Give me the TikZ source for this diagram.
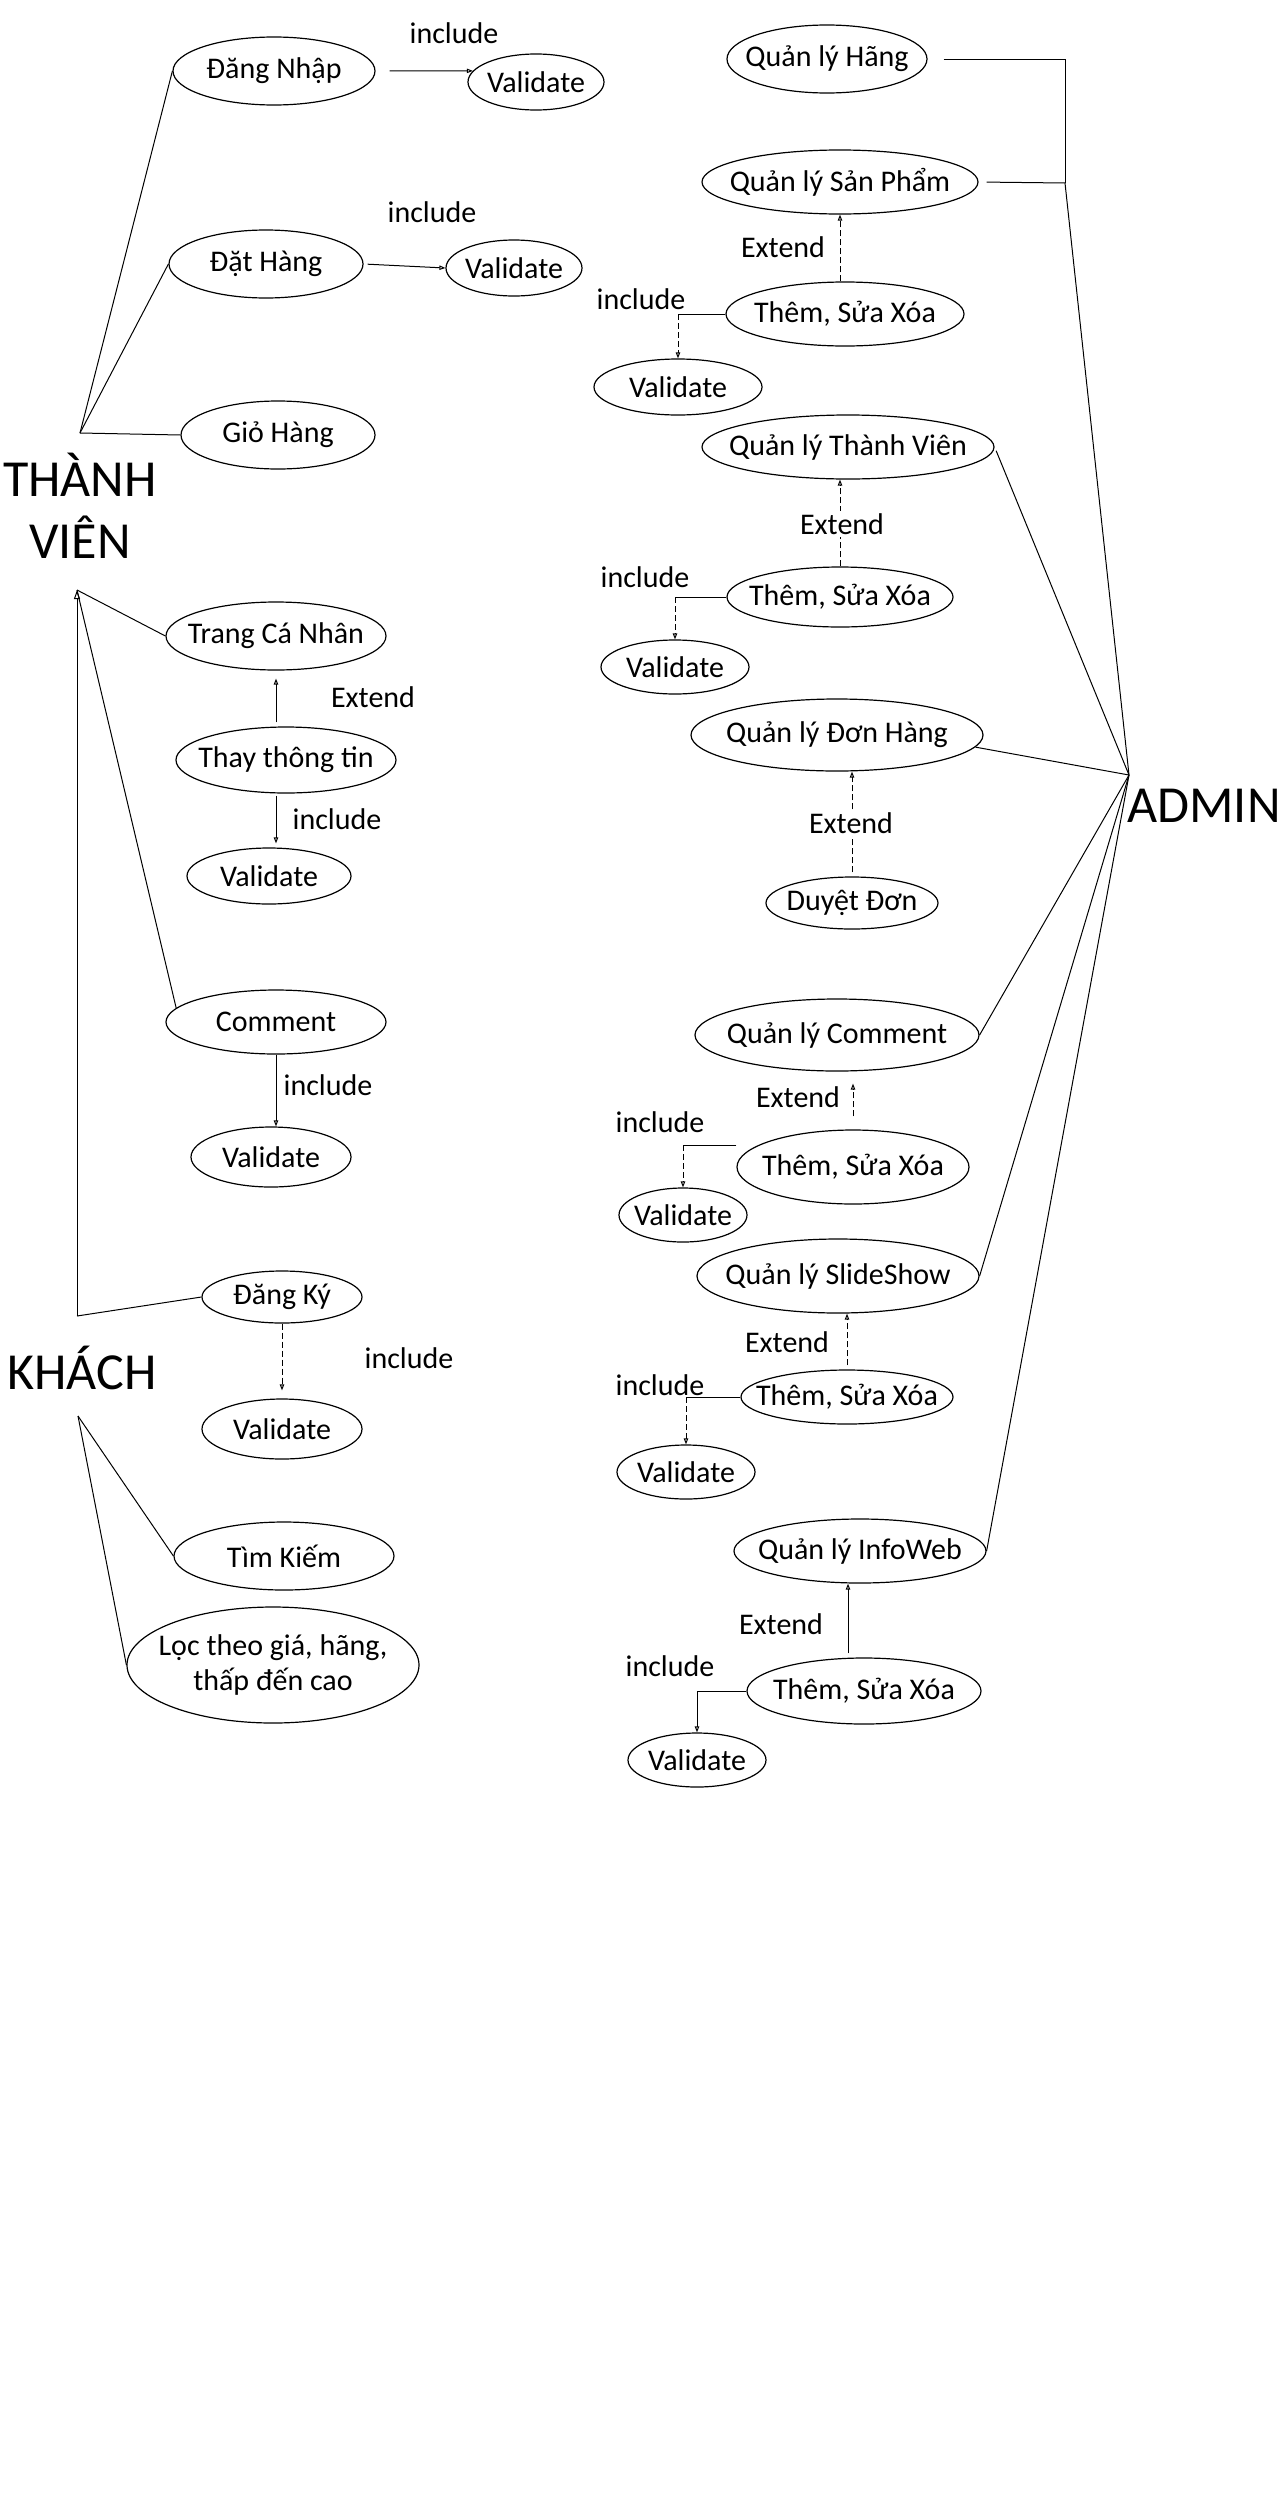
\documentclass[tikz,border=0pt]{standalone}
\usepackage{fontspec}
\setmainfont{Carlito}
\usetikzlibrary{shapes.geometric,arrows.meta}

\begin{document}
\begin{tikzpicture}[x=0.5pt,y=-0.5pt,
  usecase/.style 2 args={ellipse,draw,line width=0.6pt,inner xsep=-10pt,inner ysep=0pt,
    minimum width=#1,minimum height=#2,align=center,font=\fontsize{15}{17.5}\selectfont},
  lbl/.style={inner sep=1pt,font=\fontsize{15}{17.5}\selectfont},
  actorlbl/.style={align=center,inner sep=0pt,font=\fontsize{26}{31}\selectfont},
  ln/.style={line width=0.5pt},
  arw/.style={ln,-{Triangle[open,length=3pt,width=2.2pt]}},
  darw/.style={arw,dash pattern=on 3pt off 1.5pt},
  genarw/.style={ln,-{Triangle[open,length=4.5pt,width=3pt]}}]
\useasboundingbox (0,0) rectangle (1280,2500);

\coordinate (tv) at (80,433);
\coordinate (tvb) at (77,590);
\coordinate (kht) at (77,1316);
\coordinate (khb) at (78,1416);
\coordinate (ad) at (1129,775);
\coordinate (qh) at (1065,59);
\coordinate (qs) at (1065,183);

\node[actorlbl] (thanhvien) at (80,506) {THÀNH\\VIÊN};
\node[actorlbl] (khach) at (82,1368) {KHÁCH};
\node[actorlbl] (admin) at (1204,806) {ADMIN};

\node[usecase={101pt}{34pt}] (dangnhap) at (274,71) {Đăng Nhập};
\node[usecase={68pt}{28pt}] (vdangnhap) at (536,82) {Validate};
\node[usecase={97pt}{34pt}] (dathang) at (266,264) {Đặt Hàng};
\node[usecase={68pt}{28pt}] (vdathang) at (514,268) {Validate};
\node[usecase={97pt}{34pt}] (giohang) at (278,435) {Giỏ Hàng};
\node[usecase={110pt}{34pt}] (trangcn) at (276,636) {Trang Cá Nhân};
\node[usecase={110pt}{33pt}] (thaytt) at (286,760) {Thay thông tin};
\node[usecase={82pt}{28pt}] (vthaytt) at (269,876) {Validate};
\node[usecase={110pt}{32pt}] (comment) at (276,1022) {Comment};
\node[usecase={80pt}{30pt}] (vcomment) at (271,1157) {Validate};
\node[usecase={80pt}{26pt}] (dangky) at (282,1297) {Đăng Ký};
\node[usecase={80pt}{30pt}] (vdangky) at (282,1429) {Validate};
\node[usecase={110pt}{34pt}] (timkiem) at (284,1556) {Tìm Kiếm};
\node[usecase={146pt}{58pt}] (loc) at (273,1665) {Lọc theo giá, hãng,\\thấp đến cao};

\node[usecase={100pt}{34pt}] (qlhang) at (827,59) {Quản lý Hãng};
\node[usecase={138pt}{32pt}] (qlsp) at (840,182) {Quản lý Sản Phẩm};
\node[usecase={119pt}{32pt}] (tsx1) at (845,314) {Thêm, Sửa Xóa};
\node[usecase={84pt}{28pt}] (vsp) at (678,387) {Validate};
\node[usecase={146pt}{32pt}] (qltv) at (848,447) {Quản lý Thành Viên};
\node[usecase={113pt}{30pt}] (tsx2) at (840,597) {Thêm, Sửa Xóa};
\node[usecase={74pt}{27pt}] (vtv) at (675,667) {Validate};
\node[usecase={146pt}{36pt}] (qldh) at (837,735) {Quản lý Đơn Hàng};
\node[usecase={86pt}{26pt}] (duyet) at (852,903) {Duyệt Đơn};
\node[usecase={142pt}{36pt}] (qlcm) at (837,1035) {Quản lý Comment};
\node[usecase={116pt}{37pt}] (tsx3) at (853,1167) {Thêm, Sửa Xóa};
\node[usecase={64pt}{27pt}] (vcm) at (683,1215) {Validate};
\node[usecase={141pt}{37pt}] (qlss) at (838,1276) {Quản lý SlideShow};
\node[usecase={106pt}{27pt}] (tsx4) at (847,1397) {Thêm, Sửa Xóa};
\node[usecase={69pt}{27pt}] (vss) at (686,1472) {Validate};
\node[usecase={126pt}{32pt}] (qliw) at (860,1551) {Quản lý InfoWeb};
\node[usecase={117pt}{33pt}] (tsx5) at (864,1691) {Thêm, Sửa Xóa};
\node[usecase={69pt}{27pt}] (viw) at (697,1760) {Validate};

\draw[ln] (tv) -- (dangnhap.west);
\draw[ln] (tv) -- (dathang.west);
\draw[ln] (tv) -- (giohang.west);
\draw[arw,shorten <=7pt] (dangnhap.east) -- (vdangnhap.170);
\draw[arw,shorten <=2pt] (dathang.east) -- (vdathang.west);
\draw[genarw] (kht) -- (tvb);
\draw[ln] (tvb) -- (trangcn.west);
\draw[ln] (tvb) -- (comment.172);
\draw[arw,shorten <=2pt,shorten >=4pt] (thaytt.north -| trangcn.south) -- (trangcn.south);
\draw[arw,shorten <=1pt,shorten >=2pt] (thaytt.south -| trangcn.south) -- (vthaytt.north -| trangcn.south);
\draw[arw] (comment.south) -- (comment.south |- vcomment.north);
\draw[darw,shorten >=4pt] (dangky.south) -- (vdangky.north);
\draw[ln] (kht) -- (dangky.west);
\draw[ln] (khb) -- (timkiem.west);
\draw[ln] (khb) -- (loc.west);

\draw[ln,shorten <=8pt] (qlhang.east) -- (qh);
\draw[ln] (qh) -- (qs);
\draw[ln,shorten <=4pt] (qlsp.east) -- (qs);
\draw[ln] (qs) -- (ad);
\draw[ln,shorten <=2pt] (qltv.east) -- (ad);
\draw[ln] (qldh.-5) -- (ad);
\draw[ln] (qlcm.east) -- (ad);
\draw[ln] (qlss.east) -- (ad);
\draw[ln] (qliw.east) -- (ad);

\draw[darw] (tsx1.north -| qlsp.south) -- (qlsp.south);
\draw[ln] (tsx1.west) -- (tsx1.west -| vsp.north);
\draw[darw] (tsx1.west -| vsp.north) -- (vsp.north);
\draw[darw] (tsx2.north) -- (tsx2.north |- qltv.south);
\draw[ln] (tsx2.west) -- (tsx2.west -| vtv.north);
\draw[darw] (tsx2.west -| vtv.north) -- (vtv.north);
\draw[darw,shorten <=2pt] (duyet.north) -- (duyet.north |- qldh.south);
\draw[darw,shorten <=6.5pt,shorten >=6pt] (tsx3.north) -- (tsx3.north |- qlcm.south);
\draw[ln] ([yshift=11pt]tsx3.west) -- ([yshift=11pt]tsx3.west -| vcm.north);
\draw[darw] ([yshift=11pt]tsx3.west -| vcm.north) -- (vcm.north);
\draw[darw,shorten <=2pt] (tsx4.north) -- (tsx4.north |- qlss.south);
\draw[ln] (tsx4.west) -- (tsx4.west -| vss.north);
\draw[darw] (tsx4.west -| vss.north) -- (vss.north);
\draw[arw,shorten <=2pt] ([xshift=-8pt]tsx5.north) -- ([xshift=-8pt]tsx5.north |- qliw.south);
\draw[ln] (tsx5.west) -- (tsx5.west -| viw.north);
\draw[arw] (tsx5.west -| viw.north) -- (viw.north);

\node[lbl] (inc1) at (454,33) {include};
\node[lbl] (inc2) at (432,212) {include};
\node[lbl] (ext1) at (373,697) {Extend};
\node[lbl] (inc3) at (337,819) {include};
\node[lbl] (inc4) at (328,1085) {include};
\node[lbl] (inc5) at (409,1358) {include};

\node[lbl] (extsp) at (783,247) {Extend};
\node[lbl] (incsp) at (641,299) {include};
\node[lbl,fill=white] (exttv) at (842,524) {Extend};
\node[lbl] (inctv) at (645,577) {include};
\node[lbl,fill=white] (extdh) at (851,823) {Extend};
\node[lbl] (extcm) at (798,1097) {Extend};
\node[lbl] (inccm) at (660,1122) {include};
\node[lbl] (extss) at (787,1342) {Extend};
\node[lbl] (incss) at (660,1385) {include};
\node[lbl] (extiw) at (781,1624) {Extend};
\node[lbl] (inciw) at (670,1666) {include};
\end{tikzpicture}
\end{document}
